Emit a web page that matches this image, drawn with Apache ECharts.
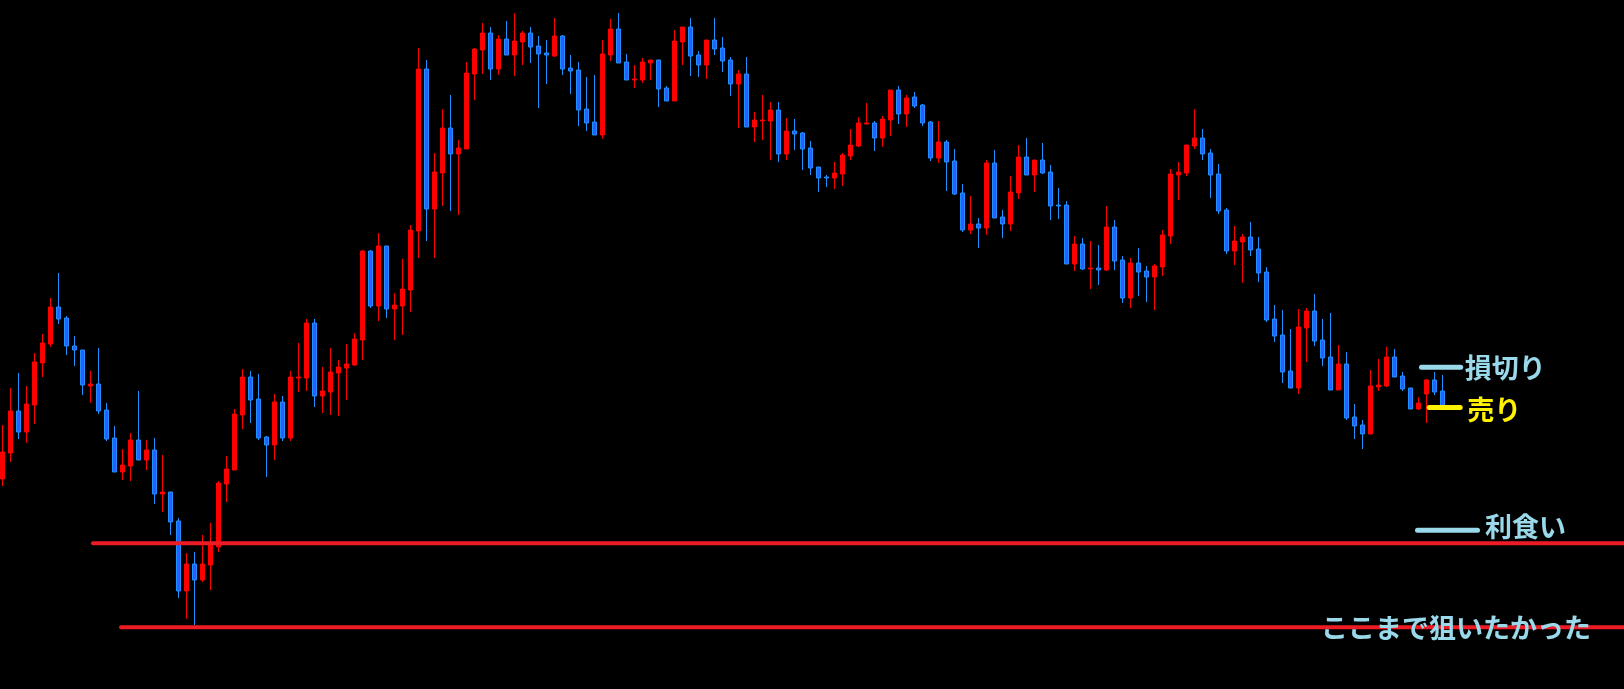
<!DOCTYPE html>
<html><head><meta charset="utf-8">
<script src="https://cdn.jsdelivr.net/npm/echarts@6/dist/echarts.min.js"></script>
<style>html,body{margin:0;padding:0;background:#000;}#c{width:1624px;height:689px;}</style>
</head><body><div id="c"></div>
<script>
// Candle values (price units)
const opens = [210,236,278,257,284,326,345,382,371,343,339,303,305,279,251,217,223,249,229,239,
195,197,168,98,125,109,124,142,205,219,274,312,290,252,244,287,251,311,311,366,
293,297,316,321,324,349,438,383,443,380,383,399,458,620,480,516,561,535,540,615,
639,656,620,650,634,647,656,643,636,633,653,621,619,580,567,554,634,660,627,609,
609,626,629,601,588,647,662,634,624,649,641,629,605,615,562,568,568,579,535,558,
556,541,522,512,511,515,533,543,565,566,551,569,599,575,592,584,567,531,547,528,
496,459,465,461,526,472,465,496,532,514,529,517,484,484,425,445,420,421,419,462,
429,391,426,418,412,422,453,514,516,543,551,536,515,479,438,447,452,440,417,370,
354,318,301,361,378,349,332,299,325,272,264,255,302,303,332,313,301,280,295,309,298];
const closes = [237,278,257,285,327,346,382,370,343,339,304,305,278,250,217,224,249,229,239,195,
197,167,98,125,109,125,146,206,220,275,312,289,251,244,287,251,312,312,366,293,
298,317,322,325,350,438,383,443,380,384,400,459,620,480,517,561,535,541,616,640,
656,620,650,634,648,656,642,635,634,653,620,618,579,566,554,635,660,626,609,610,
627,629,600,588,648,662,633,624,649,640,628,605,615,562,569,569,579,535,558,555,
540,521,511,511,516,534,544,566,566,551,570,599,575,591,583,566,531,547,527,495,
459,465,461,526,471,465,497,532,514,529,516,483,483,425,445,420,421,419,462,428,
391,426,417,412,423,454,515,517,544,551,535,514,478,438,448,452,439,416,369,353,
317,301,362,378,348,331,299,325,271,263,255,303,304,332,312,300,280,286,309,297,281];
const lows = [203,227,250,246,265,312,342,365,334,323,294,286,275,248,217,209,208,229,219,185,
177,154,91,70,64,107,99,137,187,219,260,266,249,212,229,248,248,297,298,282,
276,274,273,289,323,329,381,368,371,349,354,377,431,448,431,483,478,474,540,589,
615,609,614,634,613,624,626,581,605,632,614,595,563,558,554,550,628,626,609,601,
606,609,582,588,588,624,613,612,610,634,617,593,561,562,547,549,529,527,529,539,
519,514,497,502,500,503,529,542,565,538,542,553,565,562,581,563,528,526,498,494,
457,455,441,454,471,451,458,490,514,497,515,469,470,425,418,419,400,404,418,419,
386,381,393,387,379,413,445,489,513,540,529,491,475,435,424,406,433,407,367,347,
306,301,295,327,343,323,299,299,269,250,240,255,298,302,312,298,280,279,266,294,281];
const highs = [264,301,316,303,336,355,391,416,373,353,339,318,341,286,263,240,256,298,249,251,
234,197,171,136,137,154,166,208,233,280,320,318,315,253,295,293,318,346,370,370,
322,341,329,345,356,439,439,456,443,396,430,464,641,629,536,580,594,549,627,641,
666,662,654,668,676,658,662,653,649,671,654,634,627,612,614,649,670,676,635,624,
631,629,629,603,659,662,671,638,649,671,652,632,619,632,577,594,587,587,571,570,
557,548,522,514,527,536,560,572,586,568,573,599,603,594,597,585,568,568,549,540,
505,493,471,529,539,479,513,544,551,529,546,524,501,488,453,451,448,444,483,469,
433,431,441,423,425,459,520,527,544,580,560,540,525,481,463,455,467,452,422,384,
379,360,380,381,395,370,376,344,337,285,269,319,330,342,340,317,301,292,310,317,314];
// Horizontal levels drawn on the chart
const redLevels = [145.7, 61.7];
const redLevelStarts = [11.34, 14.84];
const noteTexts = ['損切り', '売り', '利食い'];
const noteLevels = [321.7, 281.5, 158.7];
const noteStarts = [177.4, 178.36, 176.9];
const noteEnds = [182.3, 182.24, 184.4];
const targetText = 'ここまで狙いたかった';
const targetLevel = 61.7;
const targetX = 181.7;

const SLOTS = 203;
const categories = [];
for (let i = 0; i < SLOTS; i++) categories.push(i < opens.length ? String(i + 1) : '');
const candleData = opens.map((o, i) => [o, closes[i], lows[i], highs[i]]);
const AXIS_END = SLOTS - 0.5;

const noteStyles = [
  {color: '#99d9ea', dist: 4, dy: 0},
  {color: '#fff200', dist: 7, dy: 2.5},
  {color: '#99d9ea', dist: 7.5, dy: -3.6}
];
const font = {fontFamily: '"Noto Sans CJK JP", sans-serif', fontSize: 27, fontWeight: 'bold'};

const series = [{
  type: 'candlestick',
  xAxisIndex: 0, yAxisIndex: 0,
  data: candleData,
  barWidth: 4,
  itemStyle: {color: '#ff0000', borderColor: '#ff0000', color0: '#2c5bff', borderColor0: '#1e90ff', borderWidth: 1},
  z: 2
}];
redLevels.forEach((lv, k) => {
  series.push({
    type: 'line', xAxisIndex: 1, yAxisIndex: 0, symbol: 'none', silent: true,
    data: [[redLevelStarts[k], lv], [AXIS_END + 1, lv]],
    lineStyle: {color: '#ed1c24', width: 4, cap: 'round'}, z: 3
  });
});
noteTexts.forEach((t, k) => {
  const st = noteStyles[k];
  series.push({
    type: 'line', xAxisIndex: 1, yAxisIndex: 0, symbol: 'none', silent: true,
    data: [[noteStarts[k], noteLevels[k]], [noteEnds[k], noteLevels[k]]],
    lineStyle: {color: st.color, width: 5, cap: 'round'}, z: 4,
    endLabel: Object.assign({show: true, formatter: t, color: st.color, distance: st.dist, offset: [0, st.dy]}, font)
  });
});
series.push({
  type: 'scatter', xAxisIndex: 1, yAxisIndex: 0, silent: true, z: 5,
  symbolSize: 1, itemStyle: {color: 'transparent', opacity: 1},
  data: [[targetX, targetLevel]],
  label: Object.assign({show: true, position: 'inside', formatter: targetText, color: '#99d9ea', opacity: 1}, font)
});

const chart = echarts.init(document.getElementById('c'));
chart.setOption({
  backgroundColor: '#000000',
  animation: false,
  grid: {left: -1.7, right: 1.7, top: 0, bottom: 0, outerBoundsMode: 'none', containLabel: false},
  xAxis: [
    {type: 'category', data: categories, boundaryGap: true, show: false},
    {type: 'value', min: -0.5, max: AXIS_END, show: false, splitLine: {show: false}}
  ],
  yAxis: [{type: 'value', min: 0, max: 689, show: false, splitLine: {show: false}}],
  series: series
});
</script></body></html>
